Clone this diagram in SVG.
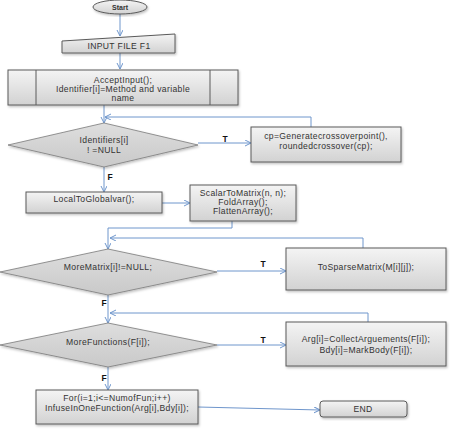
<svg xmlns="http://www.w3.org/2000/svg" width="455" height="430" viewBox="0 0 455 430">
<style>
.box{fill:url(#g);stroke:#5a5a5a;stroke-width:1;filter:url(#sh)}
.dia{fill:url(#gd);stroke:#7a7a7a;stroke-width:0.8;filter:url(#sh)}
.t{font-family:"Liberation Sans",Arial,sans-serif;font-size:8.6px;letter-spacing:0.35px;fill:#333;text-anchor:middle}
.lb{font-family:"Liberation Sans",Arial,sans-serif;font-size:8.5px;font-weight:bold;fill:#111;text-anchor:middle}
.c{fill:none;stroke:#6f96cc;stroke-width:1}
.a{marker-end:url(#ar)}
</style>
<defs>
<linearGradient id="g" x1="0" y1="0" x2="0" y2="1"><stop offset="0" stop-color="#f4f4f4"/><stop offset="1" stop-color="#d2d2d2"/></linearGradient>
<linearGradient id="gd" x1="0" y1="0" x2="0" y2="1"><stop offset="0" stop-color="#dedede"/><stop offset="1" stop-color="#c9c9c9"/></linearGradient>
<filter id="sh" x="-10%" y="-10%" width="120%" height="130%"><feDropShadow dx="1" dy="1.5" stdDeviation="1" flood-color="#000" flood-opacity="0.25"/></filter>
<marker id="ar" markerWidth="8" markerHeight="8" refX="6" refY="3" orient="auto" markerUnits="userSpaceOnUse"><path d="M0,0 L6,3 L0,6" fill="none" stroke="#6f96cc" stroke-width="1"/></marker>
</defs>
<g id="connectors">
<line class="c a" x1="120" y1="14" x2="120" y2="36"/>
<line class="c a" x1="120" y1="53" x2="120" y2="69"/>
<line class="c a" x1="104" y1="105" x2="104" y2="123"/>
<polyline class="c a" points="311,127 311,117 105,117"/>
<line class="c a" x1="198" y1="143" x2="251" y2="143"/>
<line class="c a" x1="104" y1="167" x2="104" y2="192"/>
<line class="c a" x1="162" y1="203" x2="190" y2="203"/>
<polyline class="c a" points="232,221 232,228 108,228 108,249"/>
<polyline class="c a" points="363,248 363,238 110,238"/>
<line class="c a" x1="217" y1="271" x2="286" y2="271"/>
<line class="c a" x1="108" y1="295" x2="108" y2="323"/>
<polyline class="c a" points="368,322 368,313 110,313"/>
<line class="c a" x1="217" y1="345" x2="286" y2="345"/>
<line class="c a" x1="108" y1="367" x2="108" y2="390"/>
<line class="c a" x1="198" y1="407" x2="320" y2="410"/>
<text class="lb" x="225" y="142">T</text>
<text class="lb" x="110" y="180">F</text>
<text class="lb" x="263" y="267">T</text>
<text class="lb" x="104" y="306">F</text>
<text class="lb" x="263" y="343">T</text>
<text class="lb" x="104" y="381">F</text>
</g>
<g id="start">
<ellipse class="box" cx="120" cy="7" rx="27" ry="7"/>
<text class="t" x="120" y="10" style="font-weight:bold;font-size:7px;letter-spacing:0">Start</text>
</g>
<g id="input">
<polygon class="box" points="62,41 175,34 175,53 62,53"/>
<text class="t" x="119" y="49">INPUT FILE F1</text>
</g>
<g id="accept">
<rect class="box" x="8" y="70" width="230" height="35"/>
<line x1="36" y1="70" x2="36" y2="105" stroke="#5a5a5a"/>
<line x1="210" y1="70" x2="210" y2="105" stroke="#5a5a5a"/>
<text class="t" x="123" y="83">AcceptInput();</text>
<text class="t" x="123" y="92">Identifier[i]=Method and variable</text>
<text class="t" x="123" y="101">name</text>
</g>
<g id="dec1">
<polygon class="dia" points="104,123 198,145 104,167 8,145"/>
<text class="t" x="104" y="143">Identifiers[i]</text>
<text class="t" x="104" y="153">! =NULL</text>
</g>
<g id="crossover">
<rect class="box" x="251" y="127" width="150" height="35"/>
<text class="t" x="326" y="139">cp=Generatecrossoverpoint(),</text>
<text class="t" x="326" y="149">roundedcrossover(cp);</text>
</g>
<g id="local">
<rect class="box" x="26" y="192" width="136" height="21"/>
<text class="t" x="94" y="202">LocalToGlobalvar();</text>
</g>
<g id="scalar">
<rect class="box" x="190" y="185" width="106" height="36"/>
<text class="t" x="243" y="196">ScalarToMatrix(n, n);</text>
<text class="t" x="243" y="205">FoldArray();</text>
<text class="t" x="243" y="214">FlattenArray();</text>
</g>
<g id="dec2">
<polygon class="dia" points="108,249 217,272 108,295 0,272"/>
<text class="t" x="108" y="270">MoreMatrix[i]!=NULL;</text>
</g>
<g id="sparse">
<rect class="box" x="286" y="248" width="160" height="42"/>
<text class="t" x="366" y="270">ToSparseMatrix(M[i][j]);</text>
</g>
<g id="dec3">
<polygon class="dia" points="108,323 217,345 108,367 0,345"/>
<text class="t" x="108" y="345">MoreFunctions(F[i]);</text>
</g>
<g id="collect">
<rect class="box" x="286" y="322" width="160" height="44"/>
<text class="t" x="366" y="342">Arg[i]=CollectArguements(F[i]);</text>
<text class="t" x="366" y="353">Bdy[i]=MarkBody(F[i]);</text>
</g>
<g id="for">
<rect class="box" x="36" y="390" width="162" height="34"/>
<text class="t" x="117" y="401">For(i=1;i&lt;=NumofFun;i++)</text>
<text class="t" x="117" y="411">InfuseInOneFunction(Arg[i],Bdy[i]);</text>
</g>
<g id="end">
<rect class="box" x="320" y="401" width="87" height="16" rx="3"/>
<text class="t" x="363" y="412">END</text>
</g>
</svg>
